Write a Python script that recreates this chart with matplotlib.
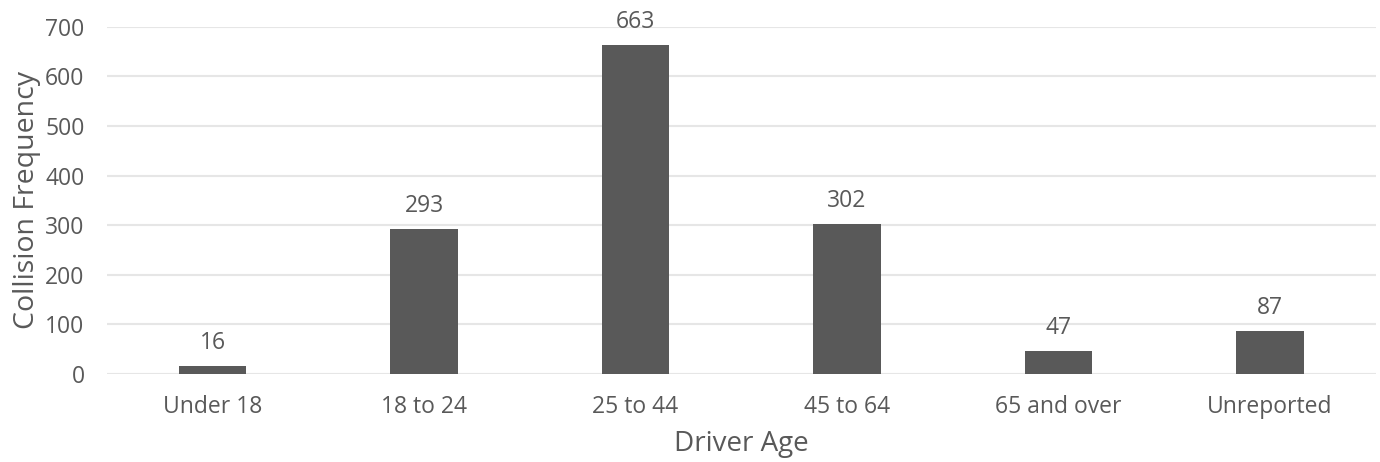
import matplotlib
matplotlib.use("Agg")
import matplotlib.pyplot as plt

# collisions by driver age group
age_groups = ["Under 18", "18 to 24", "25 to 44", "45 to 64", "65 and over", "Unreported"]
collisions = [16, 293, 663, 302, 47, 87]

plt.rcParams['font.family'] = ['Open Sans', 'DejaVu Sans']
txt = '#595959'

fig = plt.figure(figsize=(13.8, 4.62), dpi=100)
ax = fig.add_axes([106.75 / 1380, 1 - 374 / 462, 1269 / 1380, (374 - 26.7) / 462])

x = range(len(age_groups))
bars = ax.bar(x, collisions, width=0.317, color='#595959', zorder=3)
for b, v in zip(bars, collisions):
    ax.annotate(str(v), (b.get_x() + b.get_width() / 2, v), xytext=(0, 12),
                textcoords='offset points', ha='center', va='baseline',
                fontsize=16.5, color=txt)

ax.set_xlim(-0.5, len(age_groups) - 0.5)
ax.set_ylim(0, 700)
ax.set_yticks(range(0, 701, 100))
ax.set_xticks(list(x))
ax.set_xticklabels(age_groups)
ax.grid(axis='y', color='#E6E6E6', linewidth=1.5, zorder=0)
ax.set_axisbelow(True)
for s in ax.spines.values():
    s.set_visible(False)
ax.tick_params(length=0, labelsize=16.5, labelcolor=txt)
ax.tick_params(axis='y', pad=16)
ax.tick_params(axis='x', pad=15)

ax.set_xlabel('Driver Age', fontsize=20, color=txt, labelpad=8)
ax.set_ylabel('Collision Frequency', fontsize=20.5, color=txt, labelpad=3)

fig.savefig('out.png', dpi=100)
